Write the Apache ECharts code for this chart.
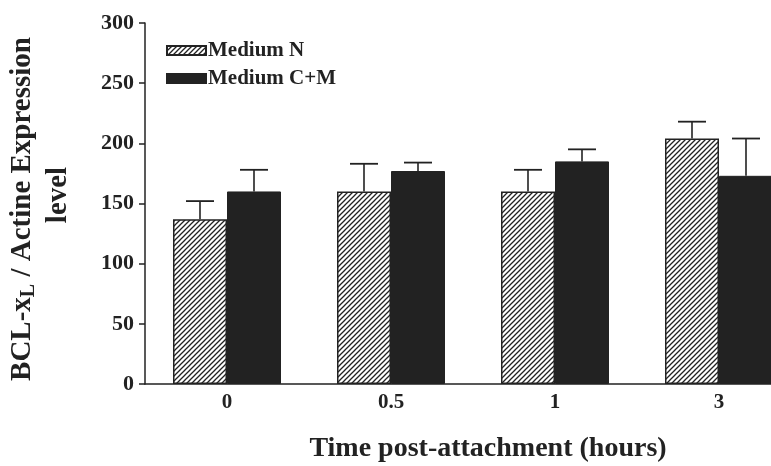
<!DOCTYPE html>
<html><head><meta charset="utf-8">
<script src="https://cdn.jsdelivr.net/npm/echarts@6/dist/echarts.min.js"></script>
<style>html,body{margin:0;padding:0;background:#fff}#c{width:771px;height:466px}</style>
</head><body><div id="c"></div>
<script>
var categories = ['0', '0.5', '1', '3'];
var mediumN = [137, 160, 160, 204];
var mediumNErr = [152, 183, 178, 218];
var mediumCM = [160, 177, 185, 173];
var mediumCMErr = [178, 184, 195, 204];
var yTicks = [0, 50, 100, 150, 200, 250, 300];

var FONT = '"Liberation Serif", "Times New Roman", serif';
var INK = '#222';

function hatch() {
  var s = 5, c = document.createElement('canvas');
  c.width = s; c.height = s;
  var g = c.getContext('2d');
  g.fillStyle = '#fff'; g.fillRect(0, 0, s, s);
  g.strokeStyle = INK; g.lineWidth = 1.3;
  g.beginPath();
  g.moveTo(-1, s + 1); g.lineTo(s + 1, -1);
  g.moveTo(-1, 1); g.lineTo(1, -1);
  g.moveTo(s - 1, s + 1); g.lineTo(s + 1, s - 1);
  g.stroke();
  return c;
}

var BAR_W = 54;
function errItem(offsetSign) {
  return function (params, api) {
    var i = api.value(0);
    var p0 = api.coord([i, api.value(1)]);
    var p1 = api.coord([i, api.value(2)]);
    var x = p0[0] + offsetSign * BAR_W / 2;
    var cap = 14;
    return {
      type: 'group',
      children: [
        { type: 'line', shape: { x1: x, y1: p0[1], x2: x, y2: p1[1] }, style: { stroke: INK, lineWidth: 1.6 } },
        { type: 'line', shape: { x1: x - cap, y1: p1[1], x2: x + cap, y2: p1[1] }, style: { stroke: INK, lineWidth: 1.8 } }
      ]
    };
  };
}

var chart = echarts.init(document.getElementById('c'));
chart.setOption({
  animation: false,
  backgroundColor: '#fff',
  grid: { left: 145, top: 23, bottom: 82, width: 656, outerBoundsMode: 'none', containLabel: false },
  legend: {
    data: ['Medium N', 'Medium C+M'],
    orient: 'vertical', left: 161, top: 34, icon: 'rect',
    itemWidth: 39, itemHeight: 9, itemGap: 5,
    textStyle: { fontFamily: FONT, fontWeight: 'bold', fontSize: 21, color: INK, padding: [0, 0, 0, -3], lineHeight: 23 }
  },
  xAxis: {
    type: 'category', data: categories,
    axisLine: { lineStyle: { color: INK, width: 1.5 } },
    axisTick: { show: false },
    axisLabel: { fontFamily: FONT, fontWeight: 'bold', fontSize: 21, color: INK, margin: 8 }
  },
  yAxis: {
    type: 'value', min: 0, max: 300, interval: 50,
    splitLine: { show: false },
    axisLine: { show: true, lineStyle: { color: INK, width: 1.5 } },
    axisTick: { show: true, length: 6, lineStyle: { color: INK, width: 1.5 } },
    axisLabel: { fontFamily: FONT, fontWeight: 'bold', fontSize: 22, color: INK, margin: 11,
      formatter: function (v) { return yTicks.indexOf(v) >= 0 ? String(v) : ''; } }
  },
  series: [
    { name: 'Medium N', type: 'bar', data: mediumN, barWidth: BAR_W, barGap: '0%',
      itemStyle: { color: { image: hatch(), repeat: 'repeat' }, borderColor: INK, borderWidth: 1.5 } },
    { name: 'Medium C+M', type: 'bar', data: mediumCM, barWidth: BAR_W,
      itemStyle: { color: INK, borderColor: INK, borderWidth: 1 } },
    { type: 'custom', renderItem: errItem(-1), z: 1,
      data: categories.map(function (c, i) { return [i, mediumN[i], mediumNErr[i]]; }) },
    { type: 'custom', renderItem: errItem(1), z: 1,
      data: categories.map(function (c, i) { return [i, mediumCM[i], mediumCMErr[i]]; }) }
  ],
  graphic: [
    { type: 'text', x: 23, y: 209, rotation: Math.PI / 2,
      style: { text: '{b|BCL-x}{s|L}{b| / Actine Expression}', align: 'center', verticalAlign: 'middle',
        rich: { b: { fontFamily: FONT, fontWeight: 'bold', fontSize: 29, fill: INK },
                s: { fontFamily: FONT, fontWeight: 'bold', fontSize: 20, fill: INK, padding: [12, 0, 0, 0] } } } },
    { type: 'text', x: 59, y: 195, rotation: Math.PI / 2,
      style: { text: 'level', align: 'center', verticalAlign: 'middle',
        fontFamily: FONT, fontWeight: 'bold', fontSize: 29, fill: INK } },
    { type: 'text', x: 488, y: 449,
      style: { text: 'Time post-attachment (hours)', align: 'center', verticalAlign: 'middle',
        fontFamily: FONT, fontWeight: 'bold', fontSize: 28, fill: INK } }
  ]
});
</script></body></html>
